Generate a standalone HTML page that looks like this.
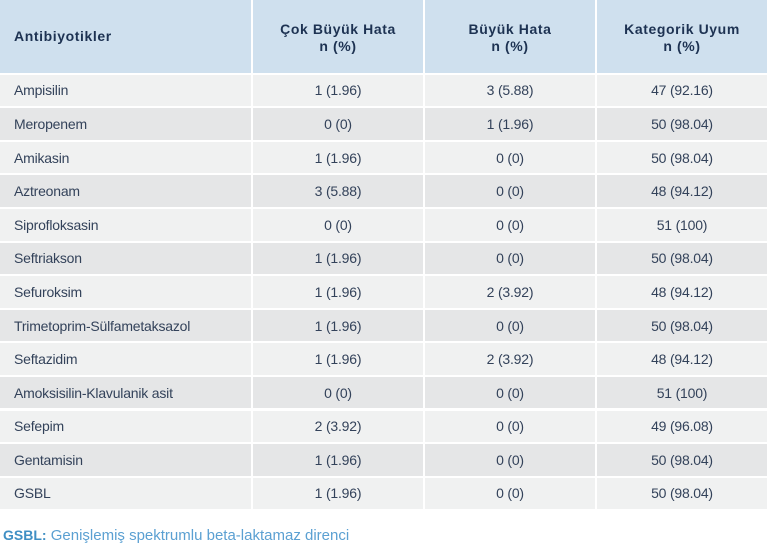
<!DOCTYPE html>
<html>
<head>
<meta charset="utf-8">
<style>
  html,body{margin:0;padding:0;background:#fff;}
  body{width:768px;height:552px;position:relative;overflow:hidden;font-family:"Liberation Sans",Arial,sans-serif;}
  .c{position:absolute;display:flex;align-items:center;box-sizing:border-box;}
  .h{background:#cfe0ee;color:#1d3252;font-weight:bold;font-size:14px;letter-spacing:0.6px;line-height:17px;top:0;height:72.7px;padding-top:3px;justify-content:center;text-align:center;}
  .h.l{padding-top:1px;}
  .l{justify-content:flex-start;padding-left:14px;text-align:left;}
  .b{font-size:14px;letter-spacing:-0.2px;color:#33425a;justify-content:center;}
  .b.l{justify-content:flex-start;}
  .c1{left:0;width:251px;}
  .c2{left:253px;width:170px;}
  .c3{left:425px;width:170px;}
  .c4{left:597px;width:170px;}
  .foot{position:absolute;left:3px;top:527px;font-size:15px;color:#5ba0d2;white-space:nowrap;}
  .foot b{color:#3f8fc4;font-size:14px;}
</style>
</head>
<body>
<div class="c h c1 l">Antibiyotikler</div>
<div class="c h c2">Çok Büyük Hata<br>n (%)</div>
<div class="c h c3">Büyük Hata<br>n (%)</div>
<div class="c h c4">Kategorik Uyum<br>n (%)</div>

<div class="c b c1 l" style="top:74.7px;height:31.5px;background:#f0f1f1">Ampisilin</div>
<div class="c b c2" style="top:74.7px;height:31.5px;background:#f0f1f1">1 (1.96)</div>
<div class="c b c3" style="top:74.7px;height:31.5px;background:#f0f1f1">3 (5.88)</div>
<div class="c b c4" style="top:74.7px;height:31.5px;background:#f0f1f1">47 (92.16)</div>

<div class="c b c1 l" style="top:108.3px;height:31.5px;background:#e5e6e7">Meropenem</div>
<div class="c b c2" style="top:108.3px;height:31.5px;background:#e5e6e7">0 (0)</div>
<div class="c b c3" style="top:108.3px;height:31.5px;background:#e5e6e7">1 (1.96)</div>
<div class="c b c4" style="top:108.3px;height:31.5px;background:#e5e6e7">50 (98.04)</div>

<div class="c b c1 l" style="top:141.9px;height:31.5px;background:#f0f1f1">Amikasin</div>
<div class="c b c2" style="top:141.9px;height:31.5px;background:#f0f1f1">1 (1.96)</div>
<div class="c b c3" style="top:141.9px;height:31.5px;background:#f0f1f1">0 (0)</div>
<div class="c b c4" style="top:141.9px;height:31.5px;background:#f0f1f1">50 (98.04)</div>

<div class="c b c1 l" style="top:175.4px;height:31.5px;background:#e5e6e7">Aztreonam</div>
<div class="c b c2" style="top:175.4px;height:31.5px;background:#e5e6e7">3 (5.88)</div>
<div class="c b c3" style="top:175.4px;height:31.5px;background:#e5e6e7">0 (0)</div>
<div class="c b c4" style="top:175.4px;height:31.5px;background:#e5e6e7">48 (94.12)</div>

<div class="c b c1 l" style="top:209px;height:31.5px;background:#f0f1f1">Siprofloksasin</div>
<div class="c b c2" style="top:209px;height:31.5px;background:#f0f1f1">0 (0)</div>
<div class="c b c3" style="top:209px;height:31.5px;background:#f0f1f1">0 (0)</div>
<div class="c b c4" style="top:209px;height:31.5px;background:#f0f1f1">51 (100)</div>

<div class="c b c1 l" style="top:242.6px;height:31.5px;background:#e5e6e7">Seftriakson</div>
<div class="c b c2" style="top:242.6px;height:31.5px;background:#e5e6e7">1 (1.96)</div>
<div class="c b c3" style="top:242.6px;height:31.5px;background:#e5e6e7">0 (0)</div>
<div class="c b c4" style="top:242.6px;height:31.5px;background:#e5e6e7">50 (98.04)</div>

<div class="c b c1 l" style="top:276.2px;height:31.5px;background:#f0f1f1">Sefuroksim</div>
<div class="c b c2" style="top:276.2px;height:31.5px;background:#f0f1f1">1 (1.96)</div>
<div class="c b c3" style="top:276.2px;height:31.5px;background:#f0f1f1">2 (3.92)</div>
<div class="c b c4" style="top:276.2px;height:31.5px;background:#f0f1f1">48 (94.12)</div>

<div class="c b c1 l" style="top:309.8px;height:31.5px;background:#e5e6e7">Trimetoprim-Sülfametaksazol</div>
<div class="c b c2" style="top:309.8px;height:31.5px;background:#e5e6e7">1 (1.96)</div>
<div class="c b c3" style="top:309.8px;height:31.5px;background:#e5e6e7">0 (0)</div>
<div class="c b c4" style="top:309.8px;height:31.5px;background:#e5e6e7">50 (98.04)</div>

<div class="c b c1 l" style="top:343.3px;height:31.5px;background:#f0f1f1">Seftazidim</div>
<div class="c b c2" style="top:343.3px;height:31.5px;background:#f0f1f1">1 (1.96)</div>
<div class="c b c3" style="top:343.3px;height:31.5px;background:#f0f1f1">2 (3.92)</div>
<div class="c b c4" style="top:343.3px;height:31.5px;background:#f0f1f1">48 (94.12)</div>

<div class="c b c1 l" style="top:376.9px;height:31.5px;background:#e5e6e7">Amoksisilin-Klavulanik asit</div>
<div class="c b c2" style="top:376.9px;height:31.5px;background:#e5e6e7">0 (0)</div>
<div class="c b c3" style="top:376.9px;height:31.5px;background:#e5e6e7">0 (0)</div>
<div class="c b c4" style="top:376.9px;height:31.5px;background:#e5e6e7">51 (100)</div>

<div class="c b c1 l" style="top:410.5px;height:31.5px;background:#f0f1f1">Sefepim</div>
<div class="c b c2" style="top:410.5px;height:31.5px;background:#f0f1f1">2 (3.92)</div>
<div class="c b c3" style="top:410.5px;height:31.5px;background:#f0f1f1">0 (0)</div>
<div class="c b c4" style="top:410.5px;height:31.5px;background:#f0f1f1">49 (96.08)</div>

<div class="c b c1 l" style="top:444.1px;height:31.5px;background:#e5e6e7">Gentamisin</div>
<div class="c b c2" style="top:444.1px;height:31.5px;background:#e5e6e7">1 (1.96)</div>
<div class="c b c3" style="top:444.1px;height:31.5px;background:#e5e6e7">0 (0)</div>
<div class="c b c4" style="top:444.1px;height:31.5px;background:#e5e6e7">50 (98.04)</div>

<div class="c b c1 l" style="top:477.7px;height:31.5px;background:#f0f1f1">GSBL</div>
<div class="c b c2" style="top:477.7px;height:31.5px;background:#f0f1f1">1 (1.96)</div>
<div class="c b c3" style="top:477.7px;height:31.5px;background:#f0f1f1">0 (0)</div>
<div class="c b c4" style="top:477.7px;height:31.5px;background:#f0f1f1">50 (98.04)</div>

<div class="foot"><b>GSBL:</b> Genişlemiş spektrumlu beta-laktamaz direnci</div>
</body>
</html>
